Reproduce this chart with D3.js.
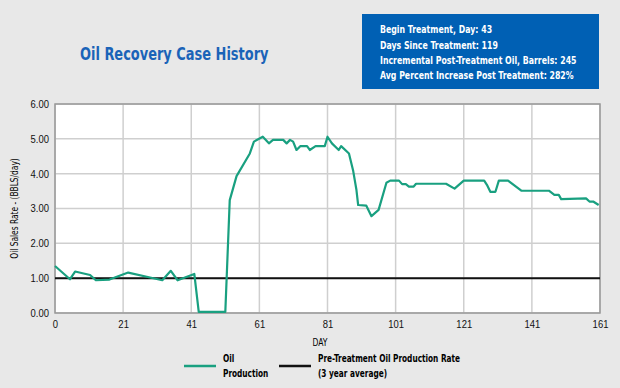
<!doctype html>
<html>
<head>
<meta charset="utf-8">
<title>Oil Recovery Case History</title>
<script src="https://d3js.org/d3.v7.min.js"></script>
<style>
  body { margin: 0; background: #e8e8e8; }
  svg { display: block; font-family: "DejaVu Sans Condensed", "Liberation Sans Narrow", Arial, sans-serif; }
  .grid line { stroke: #cfcfcf; stroke-width: 1.5; }
  .axis text { font-size: 10.5px; fill: #111; }
  .axis path, .axis line { display: none; }
</style>
</head>
<body>
<svg width="620" height="388"></svg>
<script>
// oil production (BBLS/day)
var days = [1, 5.4, 6.9, 11.3, 13, 17, 22.5, 28.9, 32.5, 35, 37, 41.9, 43.2, 51, 52.3, 54.3,
  58.2, 59.4, 62, 63.8, 65, 68, 69, 70, 70.9, 71.9, 73, 75, 75.8, 77.5, 80.2, 81, 82.3,
  84.3, 85, 87.3, 88.5, 89.5, 90, 92.4, 93.9, 96, 98.3, 99.4, 102, 102.9, 104, 104.9,
  106.3, 107, 115.8, 118.3, 121, 127, 127.8, 128.8, 130.3, 131.3, 134, 137.9, 146,
  147.6, 148.9, 149.6, 156.9, 157.9, 159, 160.6];
var oilRate = [1.35, 0.97, 1.19, 1.09, 0.94, 0.96, 1.16, 1.02, 0.94, 1.21, 0.94, 1.12, 0.03, 0.03,
  3.24, 3.93, 4.58, 4.92, 5.06, 4.87, 4.97, 4.97, 4.87, 4.97, 4.92, 4.68, 4.79, 4.79, 4.68,
  4.79, 4.79, 5.06, 4.87, 4.68, 4.79, 4.58, 4.1, 3.53, 3.1, 3.08, 2.78, 2.96, 3.74, 3.8, 3.8,
  3.7, 3.7, 3.63, 3.63, 3.71, 3.71, 3.57, 3.8, 3.8, 3.68, 3.48, 3.48, 3.8, 3.8, 3.51, 3.51,
  3.39, 3.39, 3.27, 3.29, 3.2, 3.2, 3.1];
var baseline = 1.0;

var tickDays = [1, 21, 41, 61, 81, 101, 121, 141, 161];
var tickLabels = ["0", "21", "41", "61", "81", "101", "121", "141", "161"];
var yTicks = [0, 1, 2, 3, 4, 5, 6];

var infoLines = [
  "Begin Treatment, Day: 43",
  "Days Since Treatment: 119",
  "Incremental Post-Treatment Oil, Barrels: 245",
  "Avg Percent Increase Post Treatment: 282%"
];

var svg = d3.select("svg");
var pLeft = 55, pRight = 600, pTop = 104, pBottom = 313;

var x = d3.scaleLinear().domain([1, 161]).range([pLeft, pRight]);
var y = d3.scaleLinear().domain([0, 6]).range([pBottom, pTop]);

// squeeze text to look like the narrow font of the original
function condense(sel, k) {
  sel.each(function() {
    var w = this.getComputedTextLength();
    d3.select(this).attr("textLength", w * k).attr("lengthAdjust", "spacingAndGlyphs");
  });
}

// title
svg.append("text")
  .attr("x", 80).attr("y", 60)
  .attr("fill", "#1a63b8")
  .style("font-size", "18px").style("font-weight", "bold")
  .text("Oil Recovery Case History")
  .call(condense, 0.8);

// info box
svg.append("rect")
  .attr("x", 362).attr("y", 14).attr("width", 237).attr("height", 75)
  .attr("fill", "#0060b4");
svg.append("g")
  .attr("transform", "translate(380,0) scale(0.79,1)")
  .selectAll("text")
  .data(infoLines)
  .enter().append("text")
  .attr("x", 0)
  .attr("y", function(d, i) { return 33.5 + i * 15.3; })
  .attr("fill", "#fff")
  .style("font-size", "11px").style("font-weight", "bold")
  .text(function(d) { return d; });

// plot background
svg.append("rect")
  .attr("x", pLeft).attr("y", pTop)
  .attr("width", pRight - pLeft).attr("height", pBottom - pTop)
  .attr("fill", "#fff");

// grid
var grid = svg.append("g").attr("class", "grid");
grid.selectAll("line.h").data(yTicks).enter().append("line")
  .attr("x1", pLeft).attr("x2", pRight)
  .attr("y1", function(d) { return y(d); }).attr("y2", function(d) { return y(d); });
grid.selectAll("line.v").data(tickDays).enter().append("line")
  .attr("y1", pTop).attr("y2", pBottom)
  .attr("x1", function(d) { return x(d); }).attr("x2", function(d) { return x(d); });

svg.append("rect")
  .attr("x", pLeft).attr("y", pTop)
  .attr("width", pRight - pLeft).attr("height", pBottom - pTop)
  .attr("fill", "none").attr("stroke", "#999").attr("stroke-width", 1.5);

// axes
svg.append("g").attr("class", "axis")
  .attr("transform", "translate(0," + pBottom + ")")
  .call(d3.axisBottom(x).tickValues(tickDays).tickSize(0).tickPadding(8)
    .tickFormat(function(d, i) { return tickLabels[i]; }))
  .selectAll("text").call(condense, 0.9);
svg.append("g").attr("class", "axis")
  .attr("transform", "translate(" + (pLeft - 2) + ",0)")
  .call(d3.axisLeft(y).tickValues(yTicks).tickSize(0).tickPadding(4)
    .tickFormat(d3.format(".2f")))
  .selectAll("text").call(condense, 0.9);

svg.append("text")
  .attr("x", 320).attr("y", 346)
  .attr("text-anchor", "middle")
  .style("font-size", "10px")
  .text("DAY")
  .call(condense, 0.85);
svg.append("text")
  .attr("transform", "translate(18," + ((pTop + pBottom) / 2) + ") rotate(-90)")
  .attr("text-anchor", "middle")
  .style("font-size", "10px")
  .text("Oil Sales Rate - (BBLS/day)")
  .call(condense, 0.83);

// baseline
svg.append("line")
  .attr("x1", pLeft).attr("x2", pRight)
  .attr("y1", y(baseline)).attr("y2", y(baseline))
  .attr("stroke", "#111").attr("stroke-width", 2);

// oil production line
var line = d3.line()
  .x(function(d, i) { return x(days[i]); })
  .y(function(d) { return y(d); });
svg.append("path")
  .datum(oilRate)
  .attr("d", line)
  .attr("fill", "none")
  .attr("stroke", "#19a080")
  .attr("stroke-width", 2.2)
  .attr("stroke-linejoin", "round");

// legend
var legend = svg.append("g").style("font-size", "10.5px").style("font-weight", "bold");
legend.append("line").attr("x1", 184).attr("x2", 216).attr("y1", 366).attr("y2", 366)
  .attr("stroke", "#19a080").attr("stroke-width", 2.5);
legend.append("line").attr("x1", 279).attr("x2", 311).attr("y1", 366).attr("y2", 366)
  .attr("stroke", "#111").attr("stroke-width", 2.5);
legend.append("text").attr("x", 223).attr("y", 362).text("Oil");
legend.append("text").attr("x", 223).attr("y", 377).text("Production");
legend.append("text").attr("x", 318).attr("y", 362).text("Pre-Treatment Oil Production Rate");
legend.append("text").attr("x", 318).attr("y", 377).text("(3 year average)");
legend.selectAll("text").call(condense, 0.78);
</script>
</body>
</html>
